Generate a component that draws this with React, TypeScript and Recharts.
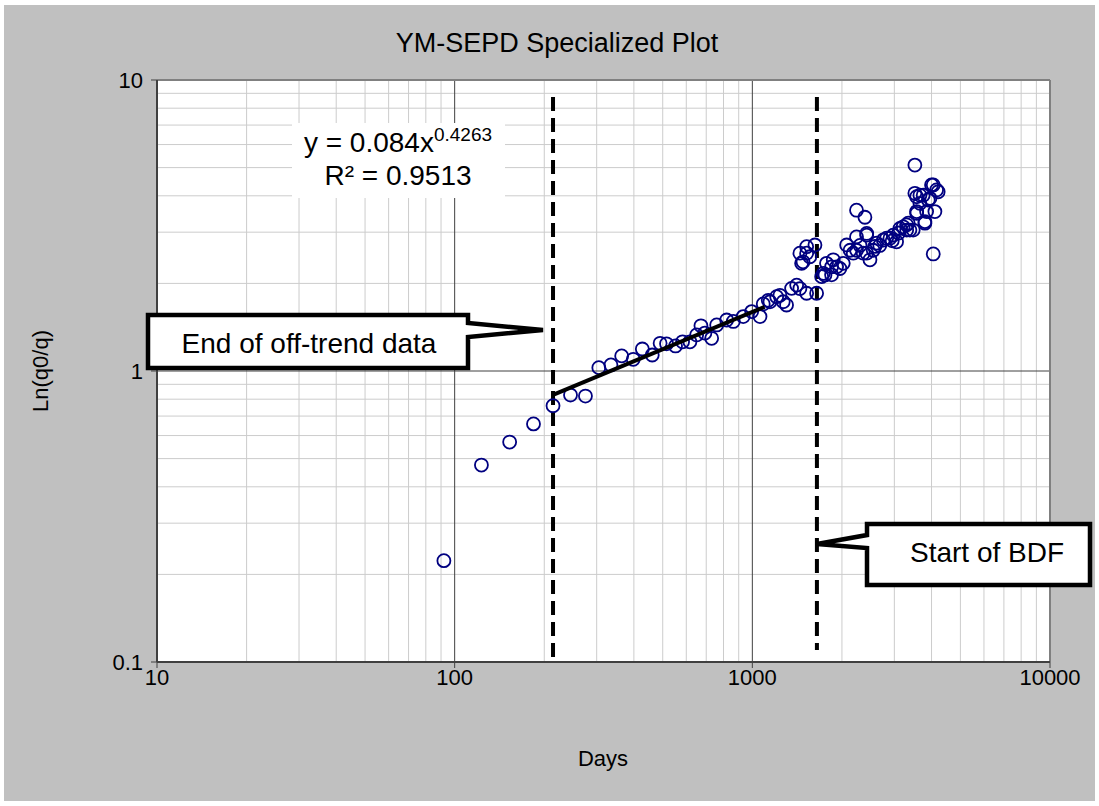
import React from 'react';
import { ScatterChart, Scatter, XAxis, YAxis, ReferenceLine } from 'recharts';

// Production history: elapsed days and ln(q0/q)
const days = [
  92, 123, 153, 184, 214, 245, 275, 305, 335, 364, 398, 427, 461, 490, 515, 552,
  583, 617, 650, 672, 693, 730, 759, 820, 863, 932, 995, 1061, 1088, 1131, 1146,
  1207, 1238, 1270, 1303, 1355, 1409, 1445, 1522, 1644, 1464, 1522, 1560, 1623,
  1445, 1480, 1522, 1710, 1754, 1733, 1775, 1846, 1846, 1870, 1919, 1968, 2020,
  2074, 2130, 2183, 2239, 2389, 2239, 2239, 2300, 2422, 2422, 2359, 2422, 2484,
  2548, 2580, 2616, 2680, 2754, 2826, 2899, 2950, 2973, 3052, 3100, 3133, 3212,
  3298, 3300, 3340, 3383, 3471, 3516, 3565, 3565, 3516, 3565, 3656, 3656, 3750,
  3800, 3800, 3850, 3900, 3952, 4000, 4053, 4053, 4105, 4159, 4210,
];
const lnRatio = [
  0.223, 0.475, 0.57, 0.658, 0.76, 0.827, 0.82, 1.027, 1.049, 1.127, 1.097, 1.19,
  1.135, 1.245, 1.24, 1.219, 1.26, 1.26, 1.33, 1.43, 1.35, 1.295, 1.44, 1.497,
  1.48, 1.538, 1.6, 1.538, 1.7, 1.75, 1.73, 1.8, 1.82, 1.73, 1.686, 1.923, 1.973,
  1.92, 1.85, 1.85, 2.344, 2.54, 2.47, 2.71, 2.54, 2.373, 2.674, 2.11, 2.138,
  2.166, 2.344, 2.28, 2.14, 2.41, 2.28, 2.25, 2.344, 2.71, 2.6, 2.54, 3.57, 3.375,
  2.6, 2.89, 2.7, 2.97, 2.93, 2.54, 2.54, 2.41, 2.6, 2.68, 2.75, 2.7, 2.82, 2.86,
  2.86, 2.8, 2.93, 2.78, 2.98, 3.09, 3.13, 3.18, 3.05, 3.22, 3.05, 3.05, 5.1, 3.53,
  3.48, 4.08, 3.97, 4.02, 3.77, 4.02, 3.22, 3.26, 3.53, 3.87, 3.92, 4.36, 4.36,
  2.525, 3.53, 4.19, 4.13,
];

// Power-law fit y = 0.084x^0.4263, straight on log-log axes
const fitDays = [214, 1100];
const fitValues = [0.8275, 1.662];

const xTicks = [10, 100, 1000, 10000];
const yTicks = [0.1, 1, 10];

const offTrendEndDay = 214;
const bdfStartDay = 1648;

const points = days.map((d, i) => ({ days: d, value: lnRatio[i] }));
const fitLine = fitDays.map((d, i) => ({ days: d, value: fitValues[i] }));

const minorSteps = [2, 3, 4, 5, 6, 7, 8, 9];
const xMinor = [10, 100, 1000].flatMap((dec) => minorSteps.map((k) => k * dec));
const yMinor = [0.1, 1].flatMap((dec) => minorSteps.map((k) => +(k * dec).toFixed(2)));

const FONT = '"Liberation Sans", Arial, sans-serif';

function Ring(props: any) {
  const { cx, cy } = props;
  if (cx == null || cy == null) return <g />;
  return <circle cx={cx} cy={cy} r={6.5} fill="none" stroke="#000080" strokeWidth={1.8} />;
}

function XTick(props: any) {
  const { x, y, payload } = props;
  return (
    <text x={x} y={y} dy={15} textAnchor="middle" fontSize={22} fontFamily={FONT} fill="#000">
      {payload.value}
    </text>
  );
}

function YTick(props: any) {
  const { x, y, payload } = props;
  return (
    <text x={x - 6} y={y} dy={8} textAnchor="end" fontSize={22} fontFamily={FONT} fill="#000">
      {payload.value}
    </text>
  );
}

export default function App() {
  return (
    <div
      style={{
        position: 'absolute',
        left: 0,
        top: 0,
        width: 1099,
        height: 806,
        background: '#ffffff',
        fontFamily: FONT,
      }}
    >
      <div style={{ position: 'absolute', left: 4, top: 5, width: 1091, height: 796, background: '#c0c0c0' }} />
      <div style={{ position: 'absolute', left: 157, top: 80, width: 893, height: 582, background: '#ffffff' }} />
      <div style={{ position: 'absolute', left: 0, top: 0 }}>
        <ScatterChart
          width={1099}
          height={806}
          margin={{ top: 80, right: 49, bottom: 114, left: 97 }}
          style={{ fontFamily: FONT }}
        >
          <XAxis
            type="number"
            dataKey="days"
            scale="log"
            domain={[10, 10000]}
            ticks={xTicks}
            allowDataOverflow
            height={30}
            axisLine={{ stroke: '#404040', strokeWidth: 2 }}
            tickLine={{ stroke: '#404040' }}
            tickSize={6}
            tick={<XTick />}
          />
          <YAxis
            type="number"
            dataKey="value"
            scale="log"
            domain={[0.1, 10]}
            ticks={yTicks}
            allowDataOverflow
            width={60}
            axisLine={{ stroke: '#404040', strokeWidth: 2 }}
            tickLine={{ stroke: '#404040' }}
            tickSize={6}
            tick={<YTick />}
          />
          {xMinor.map((v) => (
            <ReferenceLine key={'xm' + v} x={v} stroke="#cccccc" strokeWidth={1} />
          ))}
          {yMinor.map((v) => (
            <ReferenceLine key={'ym' + v} y={v} stroke="#cccccc" strokeWidth={1} />
          ))}
          <ReferenceLine x={100} stroke="#404040" strokeWidth={1} />
          <ReferenceLine x={1000} stroke="#404040" strokeWidth={1} />
          <ReferenceLine y={1} stroke="#404040" strokeWidth={1} />
          <ReferenceLine y={10} stroke="#808080" strokeWidth={2} />
          <ReferenceLine x={10000} stroke="#808080" strokeWidth={2} />
          <ReferenceLine
            segment={[
              { x: offTrendEndDay, y: 8.74 },
              { x: offTrendEndDay, y: 0.1 },
            ]}
            stroke="#000"
            strokeWidth={4}
            strokeDasharray="14 7"
          />
          <ReferenceLine
            segment={[
              { x: bdfStartDay, y: 8.74 },
              { x: bdfStartDay, y: 0.11 },
            ]}
            stroke="#000"
            strokeWidth={4}
            strokeDasharray="14 7"
          />
          <Scatter data={points} shape={Ring} isAnimationActive={false} />
          <Scatter
            data={fitLine}
            line={{ stroke: '#000', strokeWidth: 4 }}
            shape={() => <g />}
            isAnimationActive={false}
          />
        </ScatterChart>
      </div>
      <svg
        width={1099}
        height={806}
        style={{ position: 'absolute', left: 0, top: 0, fontFamily: FONT }}
      >
        <text x={557} y={52} textAnchor="middle" fontSize={27} fill="#000">
          YM-SEPD Specialized Plot
        </text>
        <text x={48} y={371} textAnchor="middle" fontSize={22} fill="#000" transform="rotate(-90 48 371)">
          Ln(q0/q)
        </text>
        <text x={603} y={766} textAnchor="middle" fontSize={22} fill="#000">
          Days
        </text>

        <rect x={292} y={123} width={213} height={75} fill="#ffffff" />
        <text x={398} y={152} textAnchor="middle" fontSize={28} fill="#000">
          y = 0.084x
          <tspan dy={-11} fontSize={19}>0.4263</tspan>
        </text>
        <text x={398} y={185} textAnchor="middle" fontSize={28} fill="#000">
          R² = 0.9513
        </text>

        <path
          d="M148 315 H468 V323 L543 330 L468 337 V368 H148 Z"
          fill="#ffffff"
          stroke="#000"
          strokeWidth={4.5}
        />
        <text x={309} y={353} textAnchor="middle" fontSize={28} fill="#000">
          End of off-trend data
        </text>

        <path
          d="M867 524 H1090 V585 H867 V548 L817 544 L867 535 Z"
          fill="#ffffff"
          stroke="#000"
          strokeWidth={4.5}
        />
        <text x={987} y={562} textAnchor="middle" fontSize={28} fill="#000">
          Start of BDF
        </text>
      </svg>
    </div>
  );
}
